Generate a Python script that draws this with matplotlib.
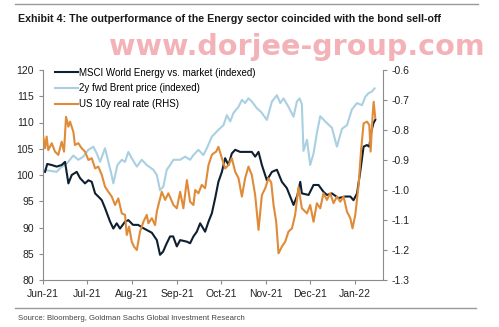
import numpy as np
import pandas as pd
import matplotlib
matplotlib.use("Agg")
import matplotlib.pyplot as plt
import matplotlib.dates as mdates
from matplotlib.lines import Line2D

# days after 1 Jun 2021
msci_days = [1.4, 2.9, 6.0, 9.4, 12.8, 15.1, 17.4, 19.7, 23.1, 25.4, 28.8, 31.1, 33.4, 35.7,
             37.9, 40.3, 42.5, 46.0, 48.2, 50.5, 52.8, 56.2, 58.5, 61.7, 65.2, 68.6, 74.6,
             78.0, 80.2, 82.3, 84.8, 87.1, 89.2, 91.7, 94.0, 98.6, 100.8, 103.1, 105.4,
             107.7, 111.1, 113.4, 115.7, 118.0, 120.2, 122.6, 124.8, 127.1, 129.4, 131.7,
             135.1, 138.5, 143.1, 145.4, 147.7, 150.0, 153.4, 156.9, 160.3, 163.7, 167.1,
             171.7, 174.4, 176.3, 177.4, 182.0, 185.4, 188.8, 192.2, 194.6, 198.0, 202.5,
             207.1, 210.6, 212.8, 215.2, 217.4, 219.7, 222.0, 223.6, 225.0, 226.5, 227.7]
msci_vals = [100.6, 102.1, 101.9, 101.6, 101.9, 102.5, 98.4, 100.0, 100.6, 99.4, 98.4, 99.0,
             98.7, 96.5, 95.9, 95.2, 93.7, 91.1, 89.8, 90.8, 89.8, 91.1, 91.4, 90.5, 90.5,
             89.9, 89.0, 87.6, 84.8, 85.4, 87.0, 88.3, 88.3, 86.4, 87.6, 87.3, 87.0, 88.3,
             89.2, 90.8, 89.2, 91.1, 92.7, 95.6, 98.7, 100.6, 103.2, 101.9, 104.1, 104.8,
             104.4, 104.4, 104.4, 103.5, 104.4, 101.9, 99.0, 100.6, 101.0, 98.7, 97.5, 94.3,
             96.2, 98.7, 96.5, 96.2, 98.1, 98.1, 96.8, 96.2, 96.5, 95.6, 95.9, 95.9, 95.2,
             96.5, 100.6, 105.4, 105.7, 105.4, 108.3, 109.9, 110.5]

brent_days = [0.2, 4.8, 9.4, 11.7, 16.3, 20.8, 24.2, 27.6, 31.1, 34.5, 37.0, 39.1, 42.5, 44.8,
              46.6, 48.2, 51.0, 54.0, 56.2, 58.5, 60.8, 64.3, 67.7, 71.1, 75.6, 78.0, 80.2,
              82.5, 84.8, 87.1, 89.4, 94.0, 97.4, 100.8, 103.1, 106.5, 109.9, 112.3, 115.7,
              120.2, 123.7, 126.0, 128.3, 130.5, 134.0, 136.3, 138.5, 140.8, 143.1, 146.6,
              149.5, 153.4, 156.9, 160.3, 162.6, 164.8, 168.2, 171.7, 174.0, 175.8, 177.4,
              178.5, 180.9, 183.1, 185.4, 187.7, 190.0, 193.4, 198.0, 201.4, 204.9, 208.3,
              211.7, 215.2, 218.6, 220.9, 223.1, 225.4, 227.2]
brent_vals = [101.0, 100.8, 100.6, 101.3, 102.2, 103.7, 102.9, 103.5, 104.8, 105.4, 104.0,
              102.5, 105.1, 102.5, 100.5, 98.4, 101.9, 102.9, 102.5, 104.4, 103.2, 101.6,
              102.9, 101.9, 101.0, 100.0, 97.1, 97.8, 101.0, 101.9, 102.9, 102.9, 103.5,
              102.9, 103.8, 104.8, 103.8, 105.1, 107.3, 108.6, 109.5, 111.4, 110.2, 111.8,
              113.0, 114.3, 113.7, 114.6, 114.0, 112.7, 112.0, 110.5, 114.0, 115.2, 113.7,
              114.6, 113.0, 111.1, 114.0, 114.6, 113.5, 104.6, 106.7, 101.9, 104.1, 108.0,
              111.2, 110.2, 109.0, 105.4, 108.8, 109.5, 112.5, 113.7, 113.3, 114.9, 115.6,
              115.9, 116.5]

rate_days = [0.2, 1.4, 2.5, 3.6, 6.0, 8.2, 10.5, 12.8, 14.4, 15.8, 17.4, 18.5, 20.8, 21.9,
             24.2, 26.5, 28.8, 31.1, 33.4, 35.7, 37.9, 40.3, 42.5, 44.8, 47.1, 49.4, 51.6,
             54.0, 56.2, 57.4, 59.0, 60.8, 62.4, 64.3, 66.5, 68.8, 71.1, 72.2, 74.6, 76.8,
             78.0, 79.1, 81.4, 83.7, 85.9, 89.4, 91.7, 94.0, 96.2, 98.6, 100.8, 103.1, 104.3,
             106.5, 108.8, 111.1, 113.4, 115.7, 116.8, 118.7, 120.2, 122.6, 124.8, 127.1,
             129.4, 131.7, 134.0, 136.3, 138.5, 140.8, 143.1, 145.4, 147.7, 150.0, 152.3,
             154.5, 156.4, 158.0, 159.8, 161.4, 163.7, 166.0, 168.2, 170.6, 172.8, 175.1,
             177.4, 180.9, 183.1, 185.4, 187.7, 190.0, 192.2, 194.6, 196.8, 199.1, 201.4,
             203.7, 206.0, 208.3, 210.6, 212.1, 214.0, 216.3, 217.9, 219.7, 222.0, 223.6,
             224.5, 225.9, 226.6, 227.7]
rate_vals = [-0.822, -0.861, -0.822, -0.867, -0.844, -0.872, -0.883, -0.839, -0.872, -0.756,
             -0.789, -0.772, -0.806, -0.850, -0.844, -0.861, -0.872, -0.900, -0.894, -0.928,
             -0.922, -0.950, -0.989, -1.006, -1.022, -1.050, -1.028, -1.078, -1.083, -1.150,
             -1.122, -1.172, -1.189, -1.200, -1.139, -1.106, -1.083, -1.111, -1.094, -1.117,
             -1.072, -1.050, -1.006, -1.033, -1.011, -1.050, -1.061, -1.006, -1.061, -0.967,
             -1.039, -1.050, -1.000, -1.011, -0.983, -0.994, -0.917, -0.883, -0.878, -0.872,
             -0.856, -0.894, -0.928, -0.917, -0.894, -0.939, -0.961, -1.022, -0.961, -0.922,
             -0.950, -1.017, -1.133, -1.017, -0.994, -0.961, -0.975, -1.050, -1.106, -1.211,
             -1.189, -1.172, -1.139, -1.128, -1.083, -0.990, -1.061, -1.078, -1.050, -1.106,
             -1.044, -1.061, -1.011, -1.033, -1.011, -1.044, -1.022, -1.039, -1.022, -1.072,
             -1.094, -1.128, -1.083, -0.983, -0.872, -0.778, -0.772, -0.783, -0.872, -0.750,
             -0.706, -0.760]

start = pd.Timestamp("2021-06-01")
def to_dates(days):
    return start + pd.to_timedelta(np.array(days), unit="D")

def fit_width(txt, px):
    # shrink/grow a text so that it spans px pixels
    fig.canvas.draw()
    w = txt.get_window_extent(renderer=fig.canvas.get_renderer()).width
    txt.set_fontsize(txt.get_fontsize() * px / w)

grey = "#8c8c8c"
plt.rcParams["font.family"] = ["Liberation Sans", "DejaVu Sans"]

fig = plt.figure(figsize=(4.99, 3.27), dpi=100)
ax = fig.add_axes([43 / 499, 1 - 280 / 327, 340 / 499, 210 / 327])
ax2 = ax.twinx()

ax.plot(to_dates(brent_days), brent_vals, color="#a9d0e2", lw=1.5)
ax.plot(to_dates(msci_days), msci_vals, color="#0e1f30", lw=1.5)
ax2.plot(to_dates(rate_days), rate_vals, color="#df8b38", lw=1.5)

ax.set_ylim(80, 120)
ax.set_yticks(range(80, 121, 5))
ax2.set_ylim(-1.3, -0.6)
ax2.set_yticks(np.arange(-1.3, -0.55, 0.1))
ax2.yaxis.set_major_formatter(plt.FuncFormatter(lambda v, p: f"{v:.1f}"))
ax.set_xlim(start, start + pd.Timedelta(days=233))
ax.xaxis.set_major_locator(mdates.MonthLocator())
ax.xaxis.set_major_formatter(mdates.DateFormatter("%b-%y"))

for a in (ax, ax2):
    a.spines["top"].set_visible(False)
    a.spines["left"].set_visible(a is ax)
    a.spines["right"].set_visible(a is ax2)
    for s in ("left", "right", "bottom"):
        a.spines[s].set_color(grey)
    a.tick_params(colors=grey, labelcolor="#222222", labelsize=7.5, length=3, width=0.8)
ax2.spines["bottom"].set_visible(False)

handles = [Line2D([], [], color="#0e1f30", lw=1.5),
           Line2D([], [], color="#a9d0e2", lw=1.5),
           Line2D([], [], color="#df8b38", lw=1.5)]
labels = ["MSCI World Energy vs. market (indexed)", "2y fwd Brent price (indexed)", "US 10y real rate (RHS)"]
ax2.legend(handles, labels, loc="upper left", bbox_to_anchor=(0.025, 1.03), frameon=False,
           fontsize=7, handlelength=2.3, handletextpad=0.1, labelspacing=0.6, borderaxespad=0)

fig.add_artist(Line2D([15 / 499, 478 / 499], [1 - 4 / 327] * 2, color="#999999", lw=1))
fig.add_artist(Line2D([15 / 499, 476 / 499], [1 - 308 / 327] * 2, color="#999999", lw=1))
title = fig.text(18 / 499, 1 - 19 / 327,
                 "Exhibit 4: The outperformance of the Energy sector coincided with the bond sell-off",
                 fontweight="bold", fontsize=8.5, va="center", ha="left", color="#1a1a1a")
source = fig.text(18 / 499, 1 - 319 / 327, "Source: Bloomberg, Goldman Sachs Global Investment Research",
                  fontsize=7, va="center", ha="left", color="#444444")
mark = fig.text(297 / 499, 1 - 47 / 327, "www.dorjee-group.com", fontsize=21, fontweight="bold",
                family=["DejaVu Sans"], color="#f2a5ac", alpha=0.85, ha="center", va="center", zorder=10)
fit_width(title, 420)
fit_width(source, 227)
fit_width(mark, 375)

fig.savefig("out.png", dpi=100)
